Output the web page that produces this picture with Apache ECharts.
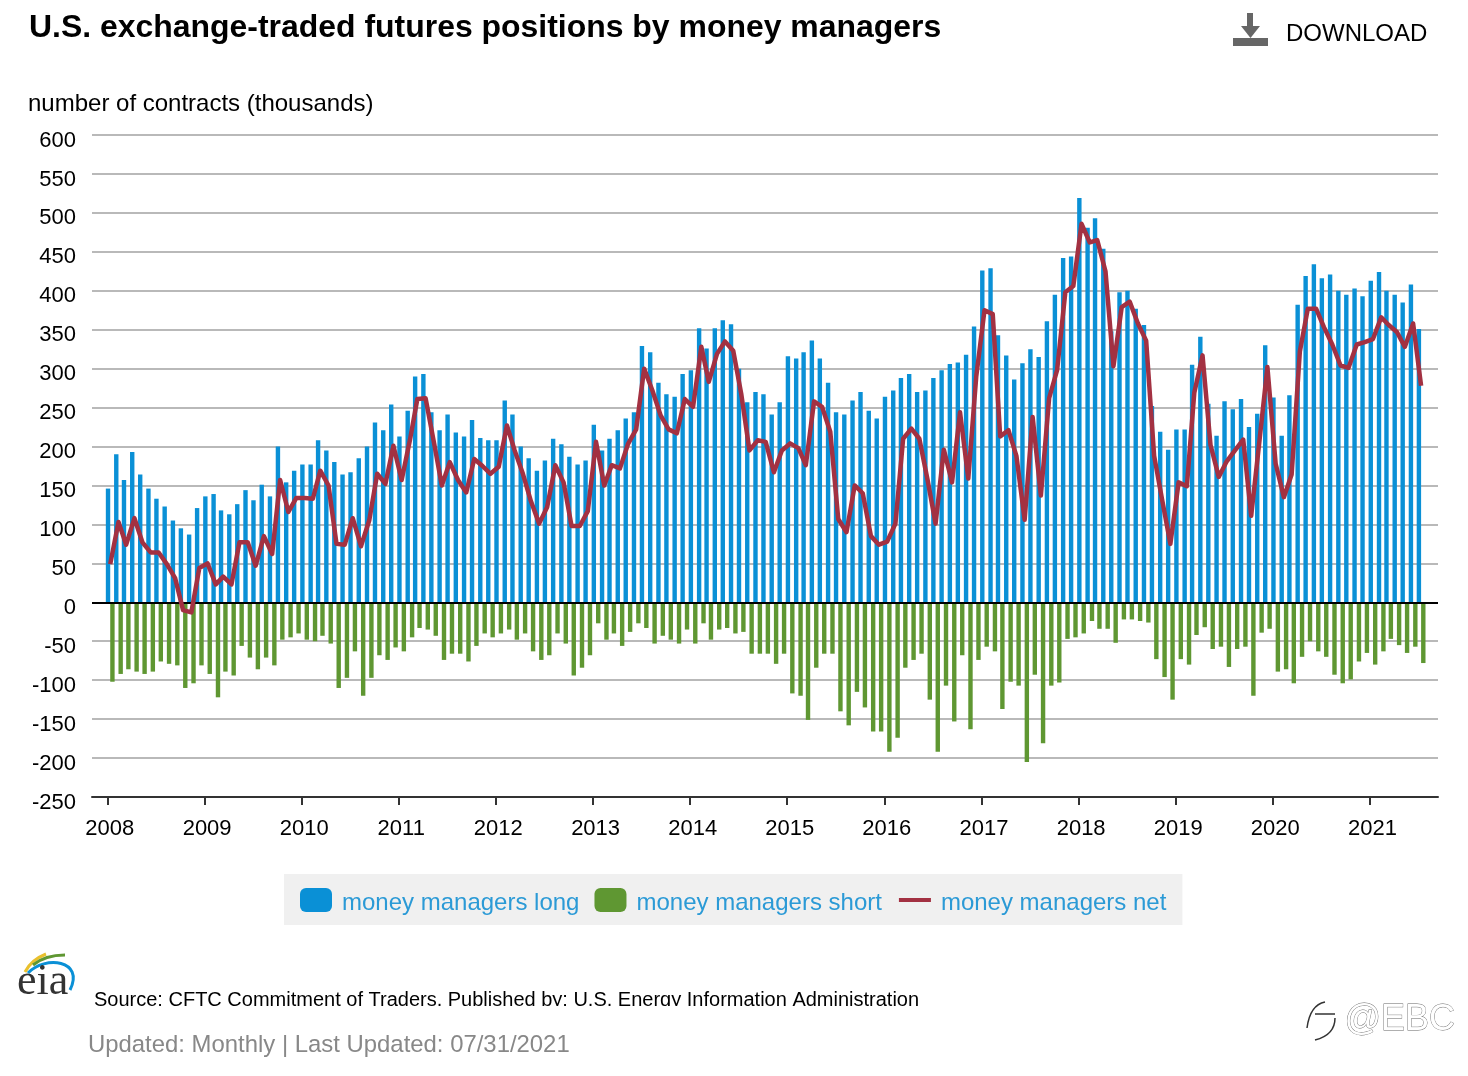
<!DOCTYPE html>
<html>
<head>
<meta charset="utf-8">
<title>U.S. exchange-traded futures positions by money managers</title>
<script src="https://cdn.jsdelivr.net/npm/echarts@6/dist/echarts.min.js"></script>
<style>
  html, body { margin: 0; padding: 0; background: #fff; }
  #chart { width: 1468px; height: 1076px; }
</style>
</head>
<body>
<div id="chart"></div>
<script>
const titleText = 'U.S. exchange-traded futures positions by money managers'
const unitText = 'number of contracts (thousands)'
const sourceText = 'Source: CFTC Commitment of Traders. Published by: U.S. Energy Information Administration'
const updatedText = 'Updated: Monthly | Last Updated: 07/31/2021'

const seriesNames = ['money managers long', 'money managers short', 'money managers net']

// monthly, Jan 2008 to Jul 2021
const firstYear = 2008
const longValues = [
  146, 190, 157, 193, 164, 146, 133, 123, 105, 95, 87, 121,
  136, 139, 118, 113, 126, 144, 131, 151, 136, 200, 154, 169,
  177, 177, 208, 195, 180, 164, 167, 185, 200, 231, 221, 254,
  213, 246, 290, 293, 244, 221, 241, 218, 213, 234, 211, 208,
  208, 259, 241, 200, 185, 169, 182, 210, 203, 187, 177, 182,
  228, 195, 210, 221, 236, 244, 329, 321, 282, 267, 264, 293,
  298, 352, 326, 352, 362, 357, 300, 257, 270, 267, 241, 257,
  316, 313, 321, 336, 313, 282, 244, 241, 259, 270, 246, 236,
  264, 272, 288, 293, 270, 272, 288, 298, 306, 308, 318, 354,
  426, 429, 343, 317, 286, 307, 325, 315, 361, 395, 442, 444,
  519, 481, 493, 454, 348, 398, 400, 377, 356, 252, 219, 196,
  222, 222, 305, 341, 255, 214, 258, 248, 261, 225, 242, 330,
  263, 214, 266, 382, 419, 434, 416, 421, 400, 395, 403, 393,
  413, 424, 400, 395, 385, 408, 351
]
const shortValues = [
  -102, -92, -86, -89, -92, -89, -76, -79, -81, -110, -104, -81,
  -92, -122, -89, -94, -56, -71, -86, -71, -81, -48, -45, -40,
  -48, -50, -43, -53, -110, -97, -63, -120, -97, -68, -74, -58,
  -63, -45, -33, -35, -43, -74, -66, -66, -76, -56, -40, -45,
  -40, -35, -48, -40, -63, -74, -68, -40, -53, -94, -84, -68,
  -27, -48, -40, -56, -38, -27, -33, -53, -43, -48, -53, -35,
  -53, -27, -48, -35, -33, -40, -38, -66, -66, -66, -79, -66,
  -117, -120, -151, -84, -66, -66, -140, -158, -115, -135, -166, -166,
  -192, -174, -84, -74, -66, -125, -192, -107, -153, -68, -163, -74,
  -57, -63, -137, -102, -107, -205, -93, -181, -107, -103, -47, -45,
  -40, -24, -34, -34, -52, -22, -22, -24, -26, -73, -96, -125,
  -73, -80, -42, -32, -60, -57, -83, -60, -57, -120, -39, -34,
  -89, -86, -104, -70, -50, -63, -70, -93, -104, -99, -76, -65,
  -80, -63, -47, -55, -65, -57, -78
]
const netValues = [
  49, 103, 74, 108, 77, 64, 64, 49, 31, -10, -13, 44,
  50, 23, 33, 23, 77, 77, 47, 85, 62, 157, 116, 134,
  134, 133, 169, 150, 75, 74, 108, 72, 105, 165, 152, 201,
  157, 208, 261, 262, 208, 150, 180, 157, 141, 184, 175, 165,
  174, 227, 195, 165, 130, 101, 122, 176, 154, 98, 98, 117,
  206, 150, 176, 172, 203, 222, 300, 272, 240, 222, 217, 261,
  251, 328, 283, 319, 335, 323, 268, 195, 208, 206, 167, 195,
  204, 198, 176, 258, 251, 219, 107, 90, 150, 140, 85, 74,
  78, 101, 210, 223, 210, 157, 101, 196, 154, 244, 159, 290,
  375, 370, 213, 221, 188, 106, 238, 137, 262, 298, 398, 406,
  486, 462, 465, 425, 303, 379, 386, 358, 336, 188, 130, 75,
  154, 149, 269, 317, 202, 161, 181, 195, 209, 111, 207, 302,
  178, 135, 164, 322, 377, 377, 353, 331, 304, 301, 331, 334,
  338, 366, 356, 347, 328, 358, 278
]

const months = longValues.map((v, i) => {
  const year = firstYear + Math.floor(i / 12)
  const month = String(i % 12 + 1).padStart(2, '0')
  return year + '-' + month + '-12'
})
const pairs = values => values.map((v, i) => [months[i], v])

const font = '"Liberation Sans", Arial, sans-serif'
const blue = '#0a90d6'
const green = '#5f9732'
const red = '#a33142'

const chart = echarts.init(document.getElementById('chart'), null, { renderer: 'canvas' })

chart.setOption({
  animation: false,
  textStyle: { fontFamily: font },
  title: {
    text: titleText,
    left: 29,
    top: 12,
    padding: 0,
    textStyle: { fontFamily: font, fontSize: 31.95, fontWeight: 'bold', color: '#000' }
  },
  grid: { left: 92, right: 30, top: 135, bottom: 279 },
  legend: {
    left: 284,
    top: 874,
    padding: [14, 16, 10, 16],
    backgroundColor: '#f0f0f0',
    itemWidth: 32,
    itemHeight: 24,
    itemGap: 15,
    selectedMode: false,
    formatter: name => '{t|' + name + '}',
    textStyle: {
      padding: [0, 0, 0, 5],
      rich: { t: { fontFamily: font, fontSize: 24, color: '#2b9ad6', padding: [6, 0, 0, 0] } }
    },
    data: [
      { name: seriesNames[0], icon: 'roundRect' },
      { name: seriesNames[1], icon: 'roundRect' },
      { name: seriesNames[2], itemStyle: { opacity: 0 }, lineStyle: { width: 4, color: red } }
    ]
  },
  xAxis: {
    type: 'time',
    // bars push the scale out by half a bar pair on each side
    min: '2007-11-21',
    max: '2021-08-28',
    splitNumber: 14,
    axisLine: { onZero: false, lineStyle: { color: '#333', width: 2 } },
    axisTick: { length: 8, lineStyle: { color: '#333', width: 2 } },
    axisLabel: { formatter: '{yyyy}', fontFamily: font, fontSize: 22, color: '#000', margin: 21, padding: [0, 0, 0, 5], hideOverlap: false },
    splitLine: { show: false }
  },
  yAxis: {
    type: 'value',
    min: -250,
    max: 600,
    interval: 50,
    axisLine: { show: false },
    axisTick: { show: false },
    axisLabel: { fontFamily: font, fontSize: 22, color: '#000', margin: 16, verticalAlign: 'top', lineHeight: 11 },
    splitLine: { lineStyle: { color: '#b9b9b9', width: 2 } }
  },
  series: [
    {
      name: seriesNames[0],
      type: 'bar',
      barWidth: 4.4,
      barGap: '0%',
      itemStyle: { color: blue },
      data: pairs(longValues)
    },
    {
      name: seriesNames[1],
      type: 'bar',
      barWidth: 4.4,
      barGap: '0%',
      itemStyle: { color: green },
      data: pairs(shortValues),
      markLine: {
        silent: true,
        symbol: 'none',
        label: { show: false },
        lineStyle: { color: '#000', width: 2, type: 'solid' },
        data: [{ yAxis: 0 }]
      }
    },
    {
      name: seriesNames[2],
      type: 'line',
      z: 5,
      symbol: 'none',
      lineStyle: { color: red, width: 4.5, join: 'round' },
      itemStyle: { color: red },
      data: pairs(netValues)
    }
  ],
  graphic: [
    { type: 'text', left: 28, top: 92, style: { text: unitText, font: '24px ' + font, fill: '#000' } },
    // download button
    { type: 'rect', shape: { x: 1247, y: 13, width: 6, height: 14 }, style: { fill: '#666' } },
    { type: 'polygon', shape: { points: [[1241, 26], [1260, 26], [1250.5, 38]] }, style: { fill: '#666' } },
    { type: 'rect', shape: { x: 1233, y: 38, width: 35, height: 8 }, style: { fill: '#666' } },
    { type: 'text', left: 1286, top: 22, style: { text: 'DOWNLOAD', font: '24px ' + font, fill: '#000' } },
    // eia logo
    { type: 'bezierCurve', shape: { x1: 25, y1: 972, cpx1: 31, cpy1: 960, x2: 46, y2: 954 }, style: { stroke: '#e9c02d', lineWidth: 3, fill: 'none' } },
    { type: 'bezierCurve', shape: { x1: 33, y1: 965, cpx1: 45, cpy1: 955, x2: 65, y2: 955 }, style: { stroke: '#5f9732', lineWidth: 3, fill: 'none' } },
    { type: 'bezierCurve', shape: { x1: 28, y1: 973, cpx1: 45, cpy1: 955, cpx2: 85, cpy2: 960, x2: 70, y2: 990 }, style: { stroke: '#0a90d6', lineWidth: 3, fill: 'none' } },
    { type: 'text', left: 17, top: 960, style: { text: 'eia', font: '44px "Liberation Serif", serif', fill: '#333' } },
    // source line, bottom of the glyphs is cut off
    { type: 'text', left: 94, top: 990, style: { text: sourceText, font: '20px ' + font, fill: '#000' } },
    { type: 'rect', shape: { x: 90, y: 1006, width: 840, height: 10 }, style: { fill: '#fff' } },
    { type: 'text', left: 88, top: 1033, style: { text: updatedText, font: '23.9px ' + font, fill: '#888' } },
    // watermark
    { type: 'bezierCurve', shape: { x1: 1325, y1: 1002, cpx1: 1310, cpy1: 1005, x2: 1307, y2: 1028 }, style: { stroke: '#333', lineWidth: 1.5, fill: 'none' } },
    { type: 'line', shape: { x1: 1315, y1: 1014, x2: 1335, y2: 1014 }, style: { stroke: '#333', lineWidth: 1.5 } },
    { type: 'bezierCurve', shape: { x1: 1335, y1: 1018, cpx1: 1335, cpy1: 1035, x2: 1315, y2: 1040 }, style: { stroke: '#333', lineWidth: 1.5, fill: 'none' } },
    { type: 'text', left: 1344, top: 1002, style: { text: '@EBC', font: '36px ' + font, fill: '#fff', stroke: '#666', lineWidth: 0.8 } }
  ]
})
</script>
</body>
</html>
